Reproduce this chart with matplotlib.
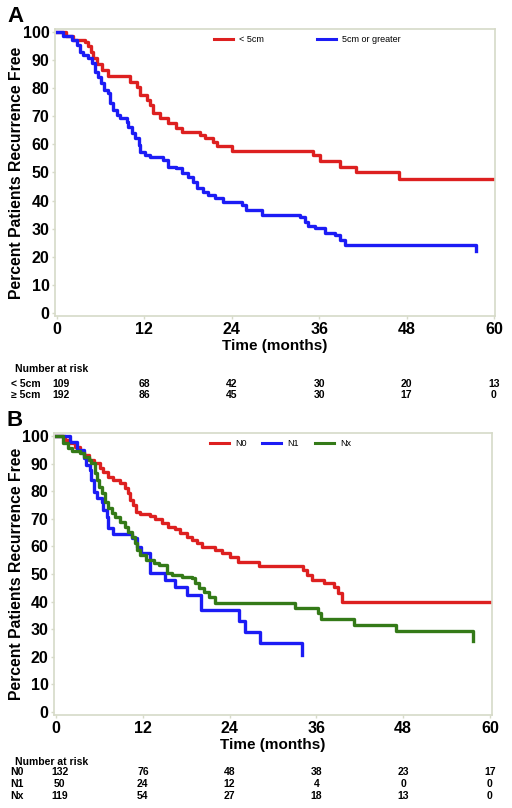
import numpy as np
import matplotlib
matplotlib.use("Agg")
import matplotlib.pyplot as plt
from matplotlib.transforms import blended_transform_factory

plt.rcParams['font.family'] = ['Liberation Sans', 'DejaVu Sans']

# ---- panel A : tumour size ----
a_small_t = [0, 1.3, 2.2, 3.8, 4.3, 4.7, 5.0, 5.5, 6.2, 7.0, 10.0, 11.0, 11.4, 12.3,
             12.8, 13.2, 14.1, 15.3, 16.4, 17.1, 19.6, 20.3, 21.4, 22.0, 24.0, 35.1,
             36.1, 38.9, 41.1, 46.9, 60]
a_small_s = [100, 98.6, 97.3, 96.3, 95, 93, 90.6, 88.5, 86.5, 84.4, 82.3, 80.5, 77.6,
             75.8, 74, 71, 69.4, 67.5, 65.8, 64.5, 63.3, 62.3, 61, 59.5, 57.8, 56.2,
             54.2, 52.1, 50.0, 47.7, 47.7]

a_big_t = [0, 0.8, 2.0, 2.7, 3.2, 3.6, 4.3, 4.8, 5.2, 5.7, 6.1, 6.4, 7.0, 7.3, 7.7,
           8.2, 8.7, 9.6, 9.8, 10.3, 10.7, 11.2, 11.4, 12.1, 12.8, 14.6, 15.3, 16.4,
           17.1, 18.0, 18.7, 19.2, 20.1, 20.8, 21.7, 22.8, 25.4, 26.0, 28.2, 33.4,
           34.1, 34.5, 35.4, 36.8, 38.2, 38.9, 39.5, 57.6]
a_big_s = [100, 98.5, 97.2, 95.4, 93, 91.8, 90.6, 88.9, 85.9, 84.1, 81.7, 79.4, 78.2,
           74.6, 72.2, 70.5, 69.3, 68.1, 66.3, 63.9, 62.2, 59.8, 57.4, 56.2, 55.6,
           54.4, 52.1, 51.5, 49.7, 48.5, 46.7, 44.4, 43.2, 42.0, 40.8, 39.6, 38.4,
           36.7, 35.0, 34.0, 32.5, 31.1, 30.1, 28.6, 27.8, 26.0, 24.2, 22.2]

a_labels = ["< 5cm", "5cm or greater"]
a_risk_labels = ["< 5cm", "\u2265 5cm"]
a_risk = [[109, 68, 42, 30, 20, 13],
          [192, 86, 45, 30, 17, 0]]

# ---- panel B : nodal status ----
b_n0_t = [0, 1.2, 1.9, 2.6, 3.3, 3.8, 4.5, 5.2, 6.1, 6.5, 7.2, 7.9, 8.8, 9.5, 10.0,
          10.2, 10.7, 11.1, 11.6, 13.0, 13.7, 14.6, 15.5, 16.5, 17.1, 18.1, 18.8,
          19.5, 20.2, 22.0, 22.9, 24.1, 25.2, 28.0, 34.2, 34.7, 35.4, 37.0, 38.4,
          39.0, 39.5, 60]
b_n0_s = [100, 98.6, 97.3, 96.1, 94.3, 93.1, 91.3, 90.1, 88.3, 87.1, 85.3, 84.1,
          82.9, 81.0, 79.2, 76.8, 75.0, 72.6, 71.7, 71.0, 69.8, 68.4, 67.1, 66.2,
          64.7, 63.5, 62.3, 61.1, 59.9, 58.7, 57.5, 56.3, 54.5, 53.0, 51.4, 49.6,
          47.8, 46.6, 45.4, 43.0, 40.0, 40.0]

b_n1_t = [0, 1.9, 2.9, 3.8, 4.2, 4.7, 4.9, 5.2, 5.6, 6.3, 6.5, 7.0, 7.2, 7.9, 10.5,
          11.2, 11.8, 13.0, 15.1, 16.5, 18.1, 20.1, 25.3, 26.1, 28.2, 34.0]
b_n1_s = [100, 97.9, 94.9, 91.9, 89.5, 87.7, 84.1, 79.8, 77.4, 76.2, 73.2, 70.8,
          66.6, 64.5, 62.9, 59.9, 57.5, 50.2, 47.8, 45.4, 42.4, 37.0, 33.1, 29.1,
          24.9, 20.7]

b_nx_t = [0, 1.0, 1.7, 2.2, 3.3, 3.8, 4.5, 4.9, 5.4, 5.6, 6.0, 6.3, 6.8, 7.2, 7.7,
          8.2, 8.8, 9.5, 10.0, 10.5, 10.9, 11.2, 11.6, 12.5, 13.5, 14.2, 15.3, 16.0,
          17.4, 18.8, 19.2, 19.7, 20.4, 21.1, 22.0, 33.0, 36.2, 36.7, 41.2, 47.0, 57.6]
b_nx_s = [100, 97.3, 95.5, 94.7, 93.7, 92.5, 91.3, 90.1, 86.5, 84.1, 81.6, 79.2,
          76.2, 73.8, 72.0, 70.5, 69.0, 67.1, 65.3, 63.5, 61.1, 58.7, 56.9, 55.1,
          54.1, 53.3, 50.2, 49.6, 49.0, 48.4, 46.6, 44.8, 43.6, 41.8, 39.6, 37.8,
          35.8, 33.8, 31.6, 29.4, 25.6]

b_labels = ["N0", "N1", "Nx"]
b_risk = [[132, 76, 48, 38, 23, 17],
          [50, 24, 12, 4, 0, 0],
          [119, 54, 27, 18, 13, 0]]

xticks = [0, 12, 24, 36, 48, 60]
yticks = list(range(0, 101, 10))

RED = '#dd2020'
BLUE = '#1c1cf5'
GREEN = '#347a18'
SPINE = '#d6dac8'

W, H = 512, 808
fig = plt.figure(figsize=(W / 100, H / 100), dpi=100)


def px(x, y):
    return x / W, 1 - y / H


def make_axes(left, top, right, bottom, xlim, ylim):
    ax = fig.add_axes([left / W, 1 - bottom / H, (right - left) / W, (bottom - top) / H])
    ax.set_xlim(*xlim)
    ax.set_ylim(*ylim)
    ax.set_xticks(xticks)
    ax.set_yticks(yticks)
    for sp in ax.spines.values():
        sp.set_color(SPINE)
        sp.set_linewidth(1.2)
    ax.tick_params(direction='out', length=2.5, width=1, color=SPINE,
                   labelsize=11.5, pad=1.5)
    for lab in ax.get_xticklabels() + ax.get_yticklabels():
        lab.set_fontweight('bold')
    ax.set_ylabel("Percent Patients Recurrence Free", fontsize=11.3, fontweight='bold')
    # right edge of the rotated label sits just left of the tick numbers
    ax.yaxis.set_label_coords((24.5 - left) / (right - left), 0.5)
    ax.set_xlabel("Time (months)", fontsize=11, fontweight='bold', labelpad=2)
    return ax


def legend_entry(x0, y, color, text):
    fig.add_artist(plt.Line2D([x0 / W, (x0 + 19) / W], [1 - y / H, 1 - y / H],
                              color=color, lw=2.2))
    fig.text(*px(x0 + 25, y), text, fontsize=6.5, va='center', ha='left')


def risk_table(ax, title_y, row_ys, labels, rows, label_x):
    tr = blended_transform_factory(ax.transData, fig.transFigure)
    fig.text(*px(15, title_y), "Number at risk", fontsize=7.5, fontweight='bold',
             va='center', ha='left')
    for y, lab, vals in zip(row_ys, labels, rows):
        fig.text(*px(label_x, y), lab, fontsize=7.5, fontweight='bold',
                 va='center', ha='left')
        for i, (t, v) in enumerate(zip(xticks, vals)):
            xpos = t + 0.5 if i == 0 else t
            ax.text(xpos, 1 - y / H, str(v), transform=tr, fontsize=7.5,
                    fontweight='bold', va='center', ha='center')


# ---- draw A ----
axA = make_axes(55, 29, 495, 316, (-0.27, 60.14), (-1.07, 101.07))
axA.step(a_small_t, a_small_s, where='post', color=RED, lw=2.4)
axA.step(a_big_t, a_big_s, where='post', color=BLUE, lw=2.4)
legend_entry(214, 39, RED, a_labels[0])
legend_entry(317, 39, BLUE, a_labels[1])
fig.text(*px(15, 17), "A", fontsize=16, fontweight='bold', ha='center', va='center')
risk_table(axA, 369, [384, 395], a_risk_labels, a_risk, 11)

# ---- draw B ----
axB = make_axes(54, 433, 492, 715, (-0.28, 60.28), (-1.1, 101.1))
axB.step(b_n0_t, b_n0_s, where='post', color=RED, lw=2.4)
axB.step(b_n1_t, b_n1_s, where='post', color=BLUE, lw=2.4)
axB.step(b_nx_t, b_nx_s, where='post', color=GREEN, lw=2.4)
legend_entry(210, 443, RED, b_labels[0])
legend_entry(262, 443, BLUE, b_labels[1])
legend_entry(315, 443, GREEN, b_labels[2])
fig.text(*px(15, 420), "B", fontsize=16, fontweight='bold', ha='center', va='center')
risk_table(axB, 762, [772, 784, 796], b_labels, b_risk, 10)

fig.savefig("out.png", dpi=100)
